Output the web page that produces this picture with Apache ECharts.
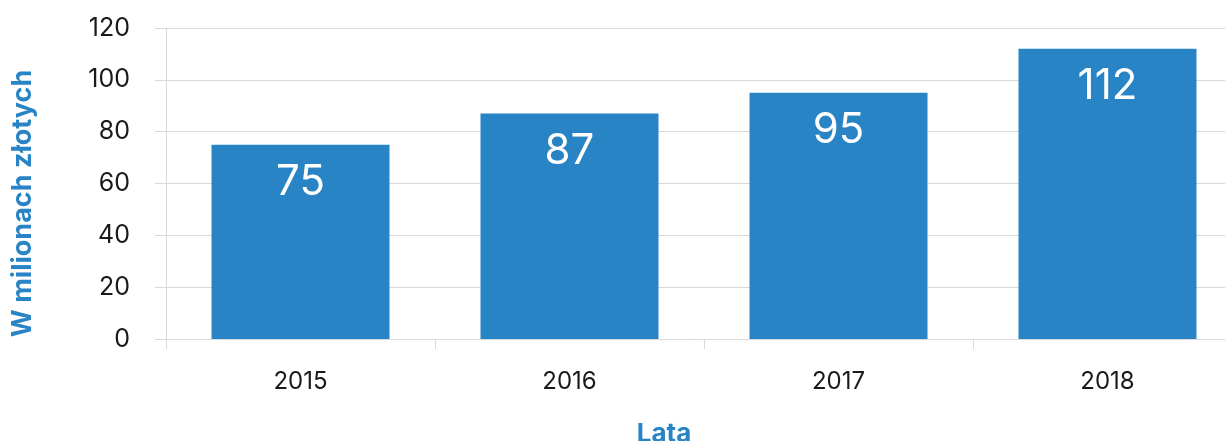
<!DOCTYPE html>
<html>
<head>
<meta charset="utf-8">
<script src="https://cdn.jsdelivr.net/npm/echarts@6/dist/echarts.min.js"></script>
<style>
html,body{margin:0;padding:0;background:#fff;}
#chart{width:1225px;height:441px;}
</style>
</head>
<body>
<div id="chart"></div>
<script>
const categories = ['2015', '2016', '2017', '2018'];
const values = [75, 87, 95, 112];
const yTitle = 'W milionach złotych';
const xTitle = 'Lata';

const FONT = 'Inter';
const BLUE = '#2884c4';
const GRID = '#d9d9d9';

const chart = echarts.init(document.getElementById('chart'), null, {renderer: 'canvas'});
chart.setOption({
  animation: false,
  backgroundColor: '#fff',
  grid: {left: 166, top: 28, width: 1076, height: 311, containLabel: false, outerBoundsMode: 'none'},
  xAxis: {
    type: 'category',
    data: categories,
    name: xTitle,
    nameLocation: 'middle',
    nameGap: 82,
    nameTextStyle: {color: BLUE, fontFamily: FONT, fontWeight: 'bold', fontSize: 26, padding: [0, 80, 0, 0]},
    axisLine: {show: true, lineStyle: {color: GRID, width: 1}},
    axisTick: {show: true, length: 10, lineStyle: {color: GRID}},
    axisLabel: {color: '#1a1a1a', fontFamily: FONT, fontSize: 24, margin: 31}
  },
  yAxis: {
    type: 'value',
    min: 0, max: 120, interval: 20,
    name: yTitle,
    nameLocation: 'middle',
    nameGap: 130,
    nameRotate: 90,
    nameTextStyle: {color: BLUE, fontFamily: FONT, fontWeight: 'bold', fontSize: 27, padding: [0, 40, 0, 0]},
    axisLine: {show: true, lineStyle: {color: GRID, width: 1}},
    axisTick: {show: true, length: 11, lineStyle: {color: GRID}},
    splitLine: {show: true, lineStyle: {color: GRID, width: 1}},
    axisLabel: {color: '#1a1a1a', fontFamily: FONT, fontSize: 25, margin: 36}
  },
  series: [{
    type: 'bar',
    data: values,
    barWidth: 178,
    itemStyle: {color: BLUE},
    label: {
      show: true,
      position: 'insideTop',
      distance: 17,
      color: '#fff',
      fontFamily: FONT,
      fontSize: 42
    }
  }]
});
</script>
</body>
</html>
